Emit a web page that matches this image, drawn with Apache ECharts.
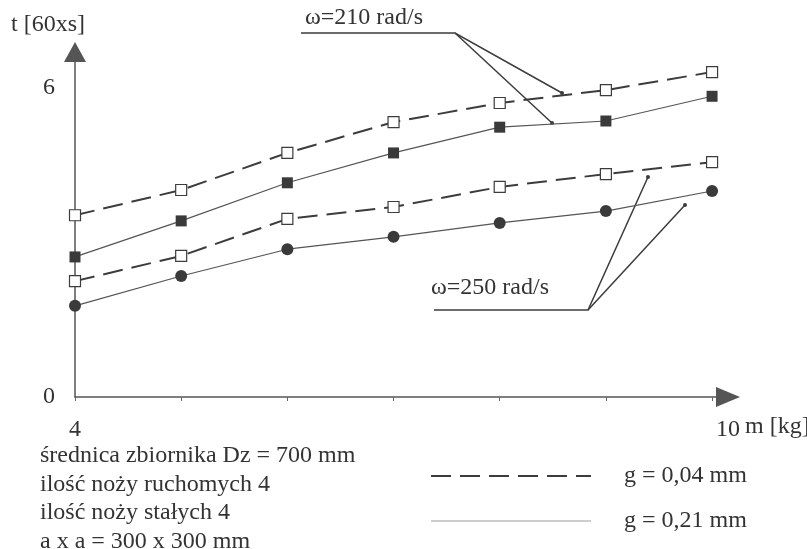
<!DOCTYPE html>
<html>
<head>
<meta charset="utf-8">
<script src="https://cdn.jsdelivr.net/npm/echarts@6/dist/echarts.min.js"></script>
<style>
  html, body { margin: 0; padding: 0; background: #fff; }
  #chart { width: 807px; height: 549px; }
</style>
</head>
<body>
<div id="chart"></div>
<script>
// masa wsadu m [kg]
const masses = [4, 5, 6, 7, 8, 9, 10];

// czas t [60xs]
const w210_g004 = [3.53, 4.02, 4.74, 5.34, 5.71, 5.96, 6.31];
const w210_g021 = [2.72, 3.42, 4.16, 4.74, 5.24, 5.36, 5.84];
const w250_g004 = [2.25, 2.74, 3.46, 3.69, 4.08, 4.33, 4.56];
const w250_g021 = [1.77, 2.35, 2.87, 3.11, 3.38, 3.61, 4.00];

const yLabels = [0, 6];
const xLabels = [4, 10];

const notes = [
  'średnica zbiornika Dz = 700 mm',
  'ilość noży ruchomych 4',
  'ilość noży stałych 4',
  'a x a = 300 x 300 mm'
];

const FONT = '"Liberation Serif", "DejaVu Serif", serif';
const FS = 24;
const INK = '#3c3c3c';

function pairs(ys) {
  return masses.map((m, i) => [m, ys[i]]);
}

const dashedStyle = { color: INK, width: 2, type: [20, 9] };
const solidStyle = { color: '#555', width: 1.2 };
const openSquare = { color: '#fff', borderColor: INK, borderWidth: 1.2 };
const filledMark = { color: '#3a3a3a' };

let chart = echarts.init(document.getElementById('chart'), null, { renderer: 'canvas' });

chart.setOption({
  animation: false,
  backgroundColor: '#fff',
  textStyle: { fontFamily: FONT },
  grid: { left: 75, right: 79, top: 52, bottom: 152, containLabel: false },
  xAxis: {
    type: 'value',
    min: 4,
    max: 10.15,
    interval: 1,
    splitLine: { show: false },
    axisLine: {
      lineStyle: { color: '#555', width: 1.5 },
      symbol: ['none', 'triangle'],
      symbolSize: [20, 24]
    },
    axisTick: { show: true, length: 4, inside: false, lineStyle: { color: '#666' } },
    axisLabel: {
      margin: 21,
      color: '#333',
      fontSize: FS,
      fontFamily: FONT,
      formatter: v => v === xLabels[0] ? String(v) : (v === xLabels[1] ? '{r|' + v + '}' : ''),
      rich: { r: { fontSize: FS, fontFamily: FONT, color: '#333', padding: [0, 0, 0, 32] } }
    }
  },
  yAxis: {
    type: 'value',
    min: 0,
    max: 6.7,
    interval: 1,
    splitLine: { show: false },
    axisLine: {
      show: true,
      lineStyle: { color: '#555', width: 1.5 },
      symbol: ['none', 'triangle'],
      symbolSize: [22, 20]
    },
    axisTick: { show: false },
    axisLabel: {
      margin: 20,
      color: '#333',
      fontSize: FS,
      fontFamily: FONT,
      formatter: v => yLabels.includes(v) ? String(v) : ''
    }
  },
  legend: {
    orient: 'vertical',
    left: 425,
    top: 459,
    itemWidth: 160,
    itemHeight: 2,
    itemGap: 21,
    itemStyle: { opacity: 0 },
    textStyle: { fontFamily: FONT, fontSize: FS, color: '#333', padding: [0, 0, 0, 28] },
    data: [
      { name: 'g = 0,04 mm' },
      { name: 'g = 0,21 mm', lineStyle: { color: '#bdbdbd', width: 1.5 } }
    ]
  },
  series: [
    {
      name: 'g = 0,04 mm',
      type: 'line',
      data: pairs(w210_g004),
      symbol: 'rect',
      symbolSize: 11,
      lineStyle: dashedStyle,
      itemStyle: openSquare
    },
    {
      name: 'g = 0,21 mm',
      type: 'line',
      data: pairs(w210_g021),
      symbol: 'rect',
      symbolSize: 11,
      lineStyle: solidStyle,
      itemStyle: filledMark
    },
    {
      name: 'g = 0,04 mm',
      type: 'line',
      data: pairs(w250_g004),
      symbol: 'rect',
      symbolSize: 11,
      lineStyle: dashedStyle,
      itemStyle: openSquare
    },
    {
      name: 'g = 0,21 mm',
      type: 'line',
      data: pairs(w250_g021),
      symbol: 'circle',
      symbolSize: 12,
      lineStyle: solidStyle,
      itemStyle: filledMark
    }
  ],
  graphic: [
    // tytul osi y
    { type: 'text', left: 11, top: 13, style: { text: 't [60xs]', font: FS + 'px ' + FONT, fill: '#333' } },
    // tytul osi x
    { type: 'text', left: 745, top: 415, style: { text: 'm [kg]', font: FS + 'px ' + FONT, fill: '#333' } },

    // opis w=210
    { type: 'text', left: 305, top: 6, style: { text: 'ω=210 rad/s', font: FS + 'px ' + FONT, fill: '#333' } },
    { type: 'polyline', shape: { points: [[301, 33], [455, 33], [562, 93]] }, style: { stroke: INK, lineWidth: 1.5, fill: null } },
    { type: 'line', shape: { x1: 455, y1: 33, x2: 552, y2: 123 }, style: { stroke: INK, lineWidth: 1.5 } },
    { type: 'circle', shape: { cx: 562, cy: 93, r: 2 }, style: { fill: INK } },
    { type: 'circle', shape: { cx: 552, cy: 123, r: 2 }, style: { fill: INK } },

    // opis w=250
    { type: 'text', left: 431, top: 276, style: { text: 'ω=250 rad/s', font: FS + 'px ' + FONT, fill: '#333' } },
    { type: 'polyline', shape: { points: [[434, 310], [588, 310], [648, 177]] }, style: { stroke: INK, lineWidth: 1.5, fill: null } },
    { type: 'line', shape: { x1: 588, y1: 310, x2: 685, y2: 205 }, style: { stroke: INK, lineWidth: 1.5 } },
    { type: 'circle', shape: { cx: 648, cy: 177, r: 2 }, style: { fill: INK } },
    { type: 'circle', shape: { cx: 685, cy: 205, r: 2 }, style: { fill: INK } },

    // parametry
    {
      type: 'group', left: 40, top: 444,
      children: notes.map((t, i) => ({
        type: 'text', x: 0, y: i * 28.5,
        style: { text: t, font: FS + 'px ' + FONT, fill: '#333' }
      }))
    }
  ]
});
</script>
</body>
</html>
